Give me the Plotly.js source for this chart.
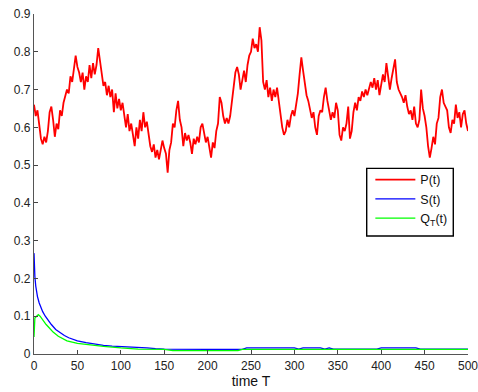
<!DOCTYPE html>
<html>
<head>
<meta charset="utf-8">
<script src="https://cdn.plot.ly/plotly-3.0.1.min.js"></script>
<style>html,body{margin:0;padding:0;background:#fff;}#chart{width:478px;height:392px;}</style>
</head>
<body>
<div id="chart"></div>
<script>
// P(t): read every 2 time units, t = 0..500
const pTimes = [];
for (let i = 0; i <= 250; i++) pTimes.push(i * 2);
const pValues = [
0.66,0.63,0.645,0.60,0.57,0.555,0.575,0.56,0.59,0.64,
0.655,0.62,0.575,0.61,0.595,0.645,0.63,0.665,0.68,0.70,
0.69,0.735,0.72,0.75,0.79,0.76,0.745,0.72,0.745,0.70,
0.735,0.72,0.765,0.73,0.77,0.74,0.765,0.81,0.78,0.74,
0.71,0.72,0.685,0.71,0.68,0.70,0.64,0.69,0.65,0.675,
0.645,0.665,0.63,0.60,0.635,0.59,0.61,0.58,0.55,0.60,
0.57,0.62,0.59,0.64,0.60,0.615,0.58,0.55,0.535,0.555,
0.52,0.54,0.515,0.54,0.565,0.545,0.53,0.48,0.54,0.56,
0.61,0.60,0.645,0.67,0.62,0.60,0.55,0.585,0.565,0.58,
0.56,0.53,0.57,0.555,0.575,0.56,0.60,0.61,0.585,0.56,
0.575,0.545,0.52,0.56,0.545,0.59,0.61,0.68,0.665,0.63,
0.61,0.625,0.61,0.63,0.665,0.70,0.745,0.76,0.74,0.70,
0.725,0.75,0.72,0.765,0.79,0.80,0.835,0.81,0.82,0.80,
0.865,0.83,0.72,0.70,0.725,0.68,0.705,0.67,0.70,0.68,
0.705,0.67,0.62,0.60,0.58,0.59,0.62,0.60,0.63,0.645,
0.63,0.655,0.69,0.74,0.785,0.75,0.71,0.685,0.67,0.645,
0.625,0.64,0.60,0.58,0.63,0.645,0.64,0.68,0.705,0.67,
0.645,0.62,0.64,0.625,0.665,0.645,0.58,0.565,0.60,0.59,
0.61,0.655,0.57,0.59,0.64,0.665,0.645,0.68,0.67,0.695,
0.68,0.70,0.685,0.70,0.72,0.705,0.73,0.70,0.725,0.685,
0.715,0.74,0.72,0.77,0.735,0.70,0.73,0.76,0.78,0.72,
0.70,0.69,0.68,0.665,0.685,0.655,0.635,0.645,0.62,0.655,
0.61,0.60,0.62,0.70,0.65,0.63,0.60,0.55,0.52,0.545,
0.575,0.555,0.61,0.625,0.68,0.70,0.665,0.655,0.645,0.60,
0.585,0.62,0.61,0.66,0.625,0.64,0.60,0.635,0.645,0.61,
0.59
];

// S(t)
const sTimes = [0,0.5,1,2,3,4,6,8,10,13,16,20,25,30,35,40,50,60,70,80,90,100,110,120,130,140,150,200,240,245,300,305,310,330,335,340,345,395,400,440,445,500];
const sValues = [0.267,0.22,0.205,0.18,0.165,0.152,0.135,0.122,0.112,0.1,0.09,0.078,0.065,0.056,0.049,0.043,0.035,0.03,0.026,0.023,0.021,0.02,0.019,0.018,0.016,0.014,0.013,0.012,0.012,0.016,0.016,0.013,0.016,0.016,0.013,0.016,0.013,0.013,0.016,0.016,0.013,0.013];

// Q_T(t)
const qTimes = [0,0.3,1,3,5,7,10,14,18,22,28,38,50,60,80,100,120,150,160,235,240,500];
const qValues = [0.045,0.09,0.095,0.1,0.104,0.1,0.09,0.078,0.068,0.058,0.047,0.035,0.028,0.025,0.02,0.016,0.013,0.012,0.009,0.009,0.012,0.012];

const xTicks = [0,50,100,150,200,250,300,350,400,450,500];
const yTicks = [0,0.1,0.2,0.3,0.4,0.5,0.6,0.7,0.8,0.9];
const yTickText = ['0','0.1','0.2','0.3','0.4','0.5','0.6','0.7','0.8','0.9'];

const traces = [
  {x:pTimes, y:pValues, type:'scatter', mode:'lines', name:'P(t)', line:{color:'#ff0000', width:1.8}},
  {x:sTimes, y:sValues, type:'scatter', mode:'lines', name:'S(t)', line:{color:'#0000ff', width:1.3}},
  {x:qTimes, y:qValues, type:'scatter', mode:'lines', name:'Q<sub>T</sub>(t)', line:{color:'#00ff00', width:1.3}}
];

const layout = {
  width:478, height:392,
  margin:{l:34, r:10, t:14, b:38},
  paper_bgcolor:'#ffffff', plot_bgcolor:'#ffffff',
  font:{family:'Liberation Sans, Arial, sans-serif', color:'#222', size:12},
  showlegend:true,
  legend:{x:0.775, y:0.556, xanchor:'left', yanchor:'top', bgcolor:'rgba(0,0,0,0)', borderwidth:0,
          font:{size:12.5, color:'#111'}, tracegroupgap:0, itemwidth:40},
  shapes:[{type:'rect', xref:'paper', yref:'paper', x0:0.7666, x1:0.9661, y0:0.347, y1:0.546,
           line:{color:'#000', width:1.4}, fillcolor:'#ffffff', layer:'above'}],
  xaxis:{range:[0,500], tickvals:xTicks, ticktext:xTicks.map(String), ticks:'inside', ticklen:4, tickcolor:'#444',
         ticklabeloverflow:'allow',
         showline:true, linecolor:'#555', linewidth:1.2, showgrid:false, zeroline:false, mirror:false,
         title:{text:'time T', font:{size:14, color:'#111'}, standoff:2}, fixedrange:true},
  yaxis:{range:[0,0.9], tickvals:yTicks, ticktext:yTickText, ticks:'inside', ticklen:4, tickcolor:'#444',
         ticklabeloverflow:'allow',
         showline:true, linecolor:'#555', linewidth:1.2, showgrid:false, zeroline:false, mirror:false, fixedrange:true}
};

Plotly.newPlot('chart', traces, layout, {displayModeBar:false, staticPlot:true});
</script>
</body>
</html>
